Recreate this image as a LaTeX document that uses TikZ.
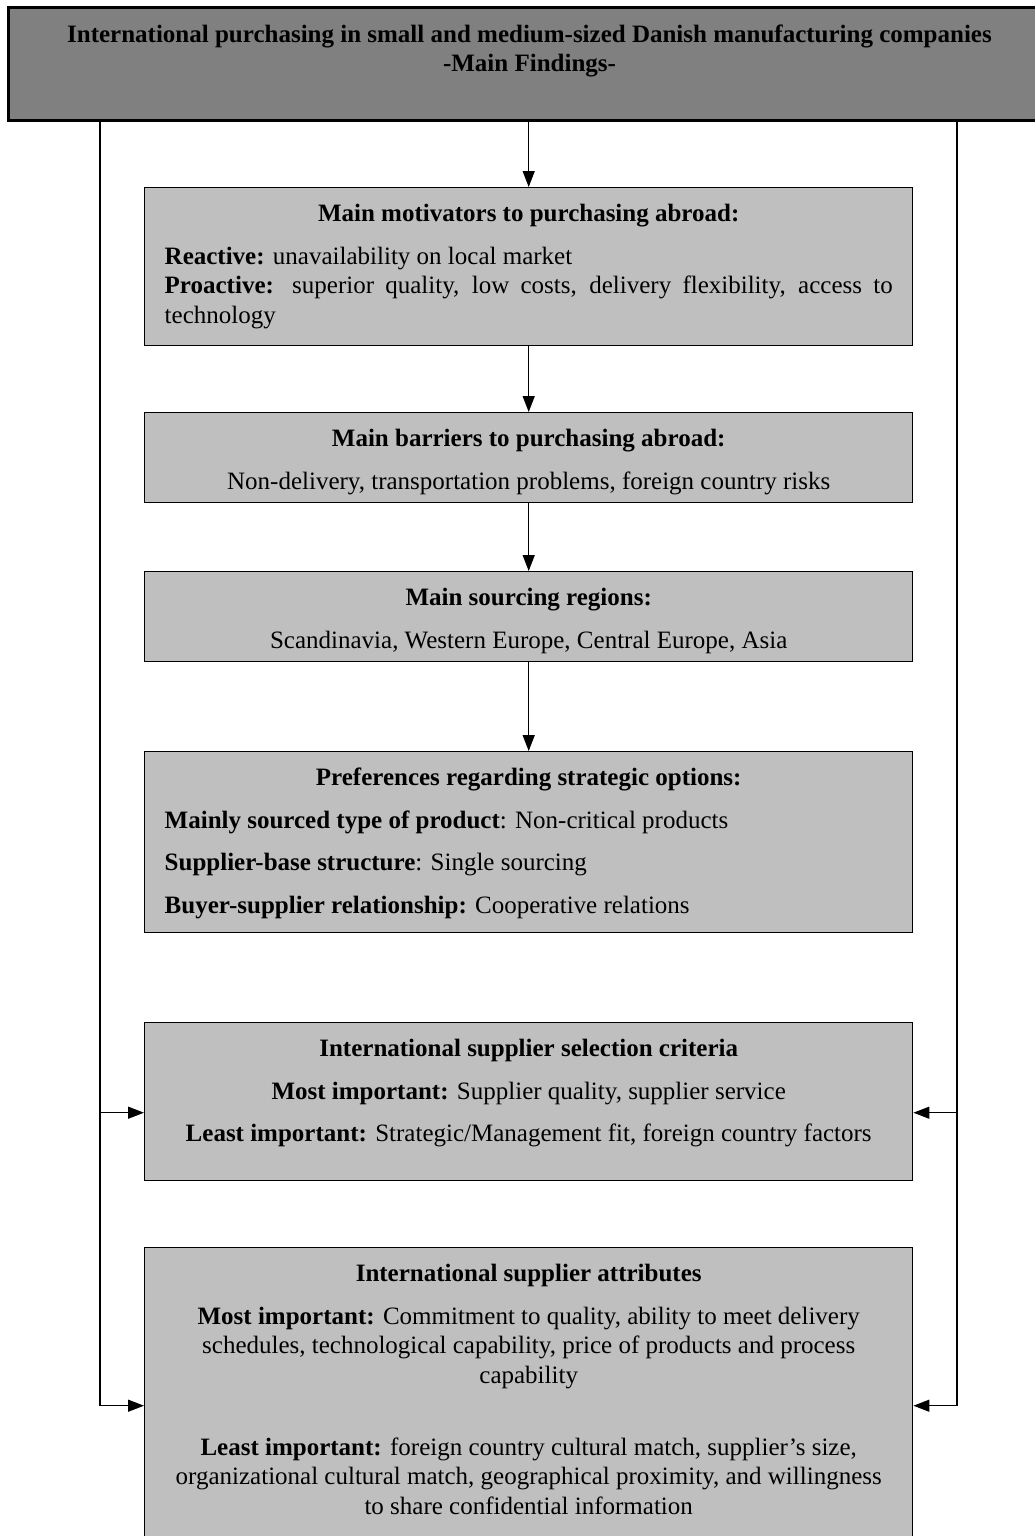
\documentclass[tikz,border=0pt]{standalone}
\usepackage{fontspec}
\setmainfont{Liberation Serif}
\usetikzlibrary{arrows.meta}
\setlength{\parindent}{0pt}
\hyphenpenalty=10000
\newcommand{\boxtitle}[1]{{\centering\bfseries\strut#1\par}\vspace{13pt}}
\newcommand{\findbox}[2]{\parbox[c][#1][t]{728pt}{\vspace*{13.35pt}#2}}

\begin{document}
\begin{tikzpicture}[x=1pt,y=-1pt,
            finding/.style={draw,fill=black!25,line width=1.4pt,inner xsep=20pt,inner ysep=0pt,
                anchor=north west,font=\fontsize{25}{29.5}\selectfont},
            heading/.style={draw,fill=black!50,line width=3pt,inner sep=0pt,
                anchor=north west,font=\fontsize{25}{29.5}\selectfont},
            flow/.style={line width=1.4pt,-{Triangle[length=16pt,width=12pt]}}]
            \useasboundingbox (0,0) rectangle (1034,1536);
            \node[heading] (top) at (6.5,6.5) {\parbox[c][112.5pt][t]{1043pt}{\vspace*{13.85pt}\centering\bfseries
                \strut International purchasing in small and medium-sized Danish manufacturing companies\\
                -Main Findings-}};
            \node[finding] (b1) at (144,187) {\findbox{158pt}{\boxtitle{Main motivators to purchasing abroad:}
                \textbf{Reactive:} unavailability on local market\\
                \textbf{Proactive:} superior quality, low costs, delivery flexibility, access to technology}};
            \node[finding] (b2) at (144,412) {\findbox{90pt}{\boxtitle{Main barriers to purchasing abroad:}
                \centering Non-delivery, transportation problems, foreign country risks}};
            \node[finding] (b3) at (144,571) {\findbox{90pt}{\boxtitle{Main sourcing regions:}
                \centering Scandinavia, Western Europe, Central Europe, Asia}};
            \node[finding] (b4) at (144,751) {\findbox{181pt}{\boxtitle{Preferences regarding strategic options:}
                \textbf{Mainly sourced type of product}: Non-critical products\par\vspace{13pt}
                \textbf{Supplier-base structure}: Single sourcing\par\vspace{13pt}
                \textbf{Buyer-supplier relationship:} Cooperative relations}};
            \node[finding] (b5) at (144,1022) {\findbox{158pt}{\boxtitle{International supplier selection criteria}
                \centering \textbf{Most important:} Supplier quality, supplier service\par\vspace{13pt}
                \textbf{Least important:} Strategic/Management fit, foreign country factors}};
            \node[finding] (b6) at (144,1247) {\findbox{316pt}{\boxtitle{International supplier attributes}
                \centering \textbf{Most important:} Commitment to quality, ability to meet delivery\\
                schedules, technological capability, price of products and process\\
                capability\par\vspace{42.5pt}
                \textbf{Least important:} foreign country cultural match, supplier’s size,\\
                organizational cultural match, geographical proximity, and willingness\\
                to share confidential information}};
            \coordinate (lt) at (100,0);
            \coordinate (rt) at (957,0);
            \draw[flow] (top.south -| b1.north) -- (b1.north);
            \draw[flow] (b1.south) -- (b2.north);
            \draw[flow] (b2.south) -- (b3.north);
            \draw[flow] (b3.south) -- (b4.north);
            \draw[flow] (top.south -| lt) |- (b6.west);
            \draw[flow] (top.south -| rt) |- (b6.east);
            \draw[flow] ([yshift=-11pt]b5.west -| lt) -- ([yshift=-11pt]b5.west);
            \draw[flow] ([yshift=-11pt]b5.east -| rt) -- ([yshift=-11pt]b5.east);
        \end{tikzpicture}
\end{document}
